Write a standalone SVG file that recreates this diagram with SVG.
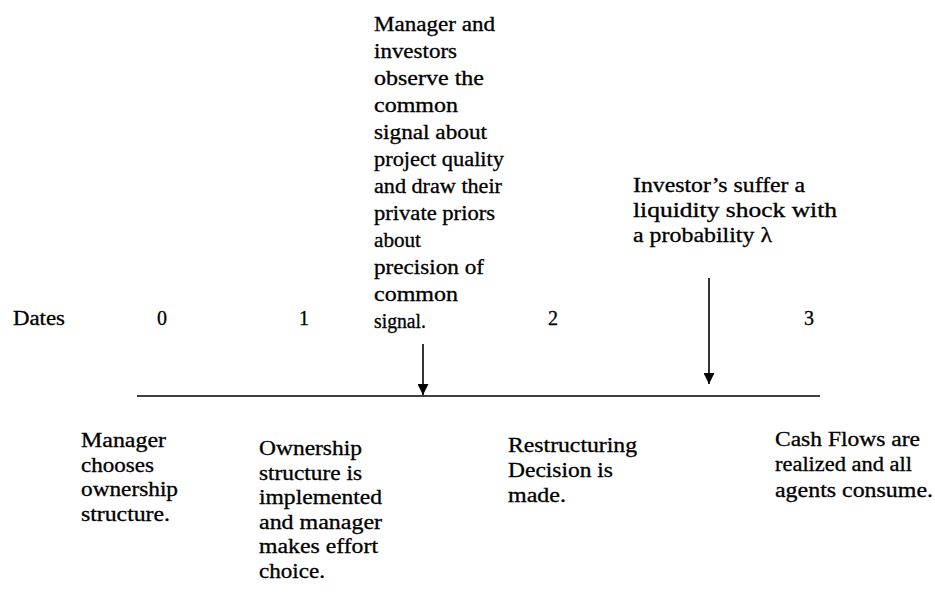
<svg xmlns="http://www.w3.org/2000/svg" width="935" height="594" viewBox="0 0 935 594">
<defs>
<style>
text{font-family:"Liberation Serif","Times New Roman",serif;font-size:20px;fill:#000;stroke:#000;stroke-width:0.3}
.ln{stroke:#000;stroke-width:1.6;fill:none}
</style>
<marker id="ah" viewBox="0 0 10 10" refX="10" refY="5" markerWidth="11" markerHeight="11" markerUnits="userSpaceOnUse" orient="auto">
<path d="M0,0 L10,5 L0,10 z" fill="#000"/>
</marker>
</defs>
<rect width="935" height="594" fill="#fff"/>
<g id="axis">
<text x="13" y="325" textLength="52" lengthAdjust="spacingAndGlyphs">Dates</text>
<text x="157" y="325">0</text>
<text x="299" y="325">1</text>
<text x="548" y="325">2</text>
<text x="804" y="325">3</text>
</g>
<g id="connectors">
<line class="ln" x1="137" y1="396" x2="820" y2="396"/>
<line class="ln" x1="423" y1="344" x2="423" y2="395" marker-end="url(#ah)"/>
<line class="ln" x1="709" y1="278" x2="709" y2="384" marker-end="url(#ah)"/>
</g>
<g id="signal-event">
<text x="374" y="31" textLength="121" lengthAdjust="spacingAndGlyphs">Manager and</text>
<text x="374" y="58" textLength="83" lengthAdjust="spacingAndGlyphs">investors</text>
<text x="374" y="85" textLength="110" lengthAdjust="spacingAndGlyphs">observe the</text>
<text x="374" y="112" textLength="84" lengthAdjust="spacingAndGlyphs">common</text>
<text x="374" y="139" textLength="113" lengthAdjust="spacingAndGlyphs">signal about</text>
<text x="374" y="166" textLength="130" lengthAdjust="spacingAndGlyphs">project quality</text>
<text x="374" y="193" textLength="128" lengthAdjust="spacingAndGlyphs">and draw their</text>
<text x="374" y="220" textLength="121" lengthAdjust="spacingAndGlyphs">private priors</text>
<text x="374" y="247" textLength="47" lengthAdjust="spacingAndGlyphs">about</text>
<text x="374" y="274" textLength="110" lengthAdjust="spacingAndGlyphs">precision of</text>
<text x="374" y="301" textLength="84" lengthAdjust="spacingAndGlyphs">common</text>
<text x="374" y="328" textLength="52" lengthAdjust="spacingAndGlyphs">signal.</text>
</g>
<g id="liquidity-event">
<text x="633" y="192" textLength="172" lengthAdjust="spacingAndGlyphs">Investor’s suffer a</text>
<text x="633" y="217" textLength="204" lengthAdjust="spacingAndGlyphs">liquidity shock with</text>
<text x="633" y="242" textLength="139" lengthAdjust="spacingAndGlyphs">a probability λ</text>
</g>
<g id="date0">
<text x="81" y="447" textLength="85" lengthAdjust="spacingAndGlyphs">Manager</text>
<text x="81" y="471.5" textLength="73" lengthAdjust="spacingAndGlyphs">chooses</text>
<text x="81" y="496" textLength="97" lengthAdjust="spacingAndGlyphs">ownership</text>
<text x="81" y="520.5" textLength="89" lengthAdjust="spacingAndGlyphs">structure.</text>
</g>
<g id="date1">
<text x="259" y="455" textLength="103" lengthAdjust="spacingAndGlyphs">Ownership</text>
<text x="259" y="479.5" textLength="103" lengthAdjust="spacingAndGlyphs">structure is</text>
<text x="259" y="504" textLength="123" lengthAdjust="spacingAndGlyphs">implemented</text>
<text x="259" y="528.5" textLength="123" lengthAdjust="spacingAndGlyphs">and manager</text>
<text x="259" y="553" textLength="119" lengthAdjust="spacingAndGlyphs">makes effort</text>
<text x="259" y="577.5" textLength="66" lengthAdjust="spacingAndGlyphs">choice.</text>
</g>
<g id="date2">
<text x="508" y="452" textLength="129" lengthAdjust="spacingAndGlyphs">Restructuring</text>
<text x="508" y="477" textLength="105" lengthAdjust="spacingAndGlyphs">Decision is</text>
<text x="508" y="502" textLength="58" lengthAdjust="spacingAndGlyphs">made.</text>
</g>
<g id="date3">
<text x="775" y="446" textLength="145" lengthAdjust="spacingAndGlyphs">Cash Flows are</text>
<text x="775" y="471" textLength="137" lengthAdjust="spacingAndGlyphs">realized and all</text>
<text x="775" y="497" textLength="158" lengthAdjust="spacingAndGlyphs">agents consume.</text>
</g>
</svg>
